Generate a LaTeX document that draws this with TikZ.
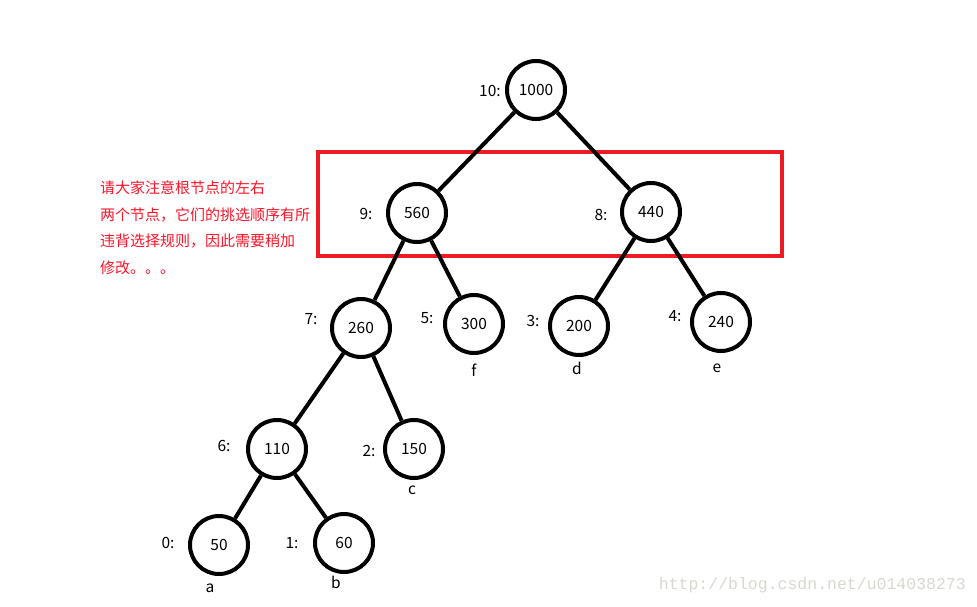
\documentclass[tikz,border=0pt]{standalone}
\usepackage{fontspec}
\setmainfont{Noto Sans CJK SC}
\newfontfamily\wmfont{Liberation Mono}
\usetikzlibrary{positioning}
\definecolor{paintred}{RGB}{237, 28, 36}
\definecolor{notered}{RGB}{255, 20, 40}
\definecolor{wmgray}{RGB}{216, 216, 208}

\begin{document}
\begin{tikzpicture}[x=1pt, y=-1pt, font=\fontsize{15.5}{17}\selectfont,
        hnode/.style={circle, draw=black, line width=4pt, fill=white,
                      minimum size=58pt, inner sep=0pt},
        idx/.style={inner sep=0pt},
        leaflbl/.style={inner sep=0pt},
        edge/.style={line width=4pt, black}
    ]
        \useasboundingbox (0,0) rectangle (977,607);

        % highlight box
        \draw[paintred, line width=4pt] (318,152) rectangle (782,256);

        % tree nodes
        \node[hnode] (n10) at (536,90)  {1000};
        \node[hnode] (n9)  at (417,213) {560};
        \node[hnode] (n8)  at (651,212) {440};
        \node[hnode] (n7)  at (361,328) {260};
        \node[hnode] (n5)  at (474,324) {300};
        \node[hnode] (n3)  at (579,326) {200};
        \node[hnode] (n4)  at (721,322) {240};
        \node[hnode] (n6)  at (277,449) {110};
        \node[hnode] (n2)  at (414,449) {150};
        \node[hnode] (n0)  at (219,545) {50};
        \node[hnode] (n1)  at (344,543) {60};

        \foreach \a/\b in {n10/n9, n10/n8, n9/n7, n9/n5, n8/n3, n8/n4,
                           n7/n6, n7/n2, n6/n0, n6/n1}
            \draw[edge] (\a) -- (\b);

        % index labels
        \node[idx] (i10) at (490,91)  {10:};
        \node[idx] (i9)  at (366,214) {9:};
        \node[idx] (i8)  at (601,215) {8:};
        \node[idx] (i7)  at (311,319) {7:};
        \node[idx] (i5)  at (427,318) {5:};
        \node[idx] (i3)  at (533,321) {3:};
        \node[idx] (i4)  at (675,316) {4:};
        \node[idx] (i6)  at (224,446) {6:};
        \node[idx] (i2)  at (369,451) {2:};
        \node[idx] (i0)  at (168,543) {0:};
        \node[idx] (i1)  at (292,543) {1:};

        % leaf letters
        \node[leaflbl] (lf) at (474,370) {f};
        \node[leaflbl] (ld) at (577,368) {d};
        \node[leaflbl] (le) at (717,368) {e};
        \node[leaflbl] (lc) at (412,490) {c};
        \node[leaflbl] (la) at (210,588) {a};
        \node[leaflbl] (lb) at (336,582) {b};

        % note
        \node[anchor=north west, inner sep=0pt, text=notered, align=left,
              font=\fontsize{15}{26.5}\selectfont] (note) at (100,181)
            {请大家注意根节点的左右\\两个节点，它们的挑选顺序有所\\违背选择规则，因此需要稍加\\修改。。。};

        \node[anchor=east, inner sep=0pt, text=wmgray,
              font=\wmfont\fontsize{16.5}{18}\selectfont] (wm) at (966,585)
            {http://blog.csdn.net/u014038273};
    \end{tikzpicture}
\end{document}
